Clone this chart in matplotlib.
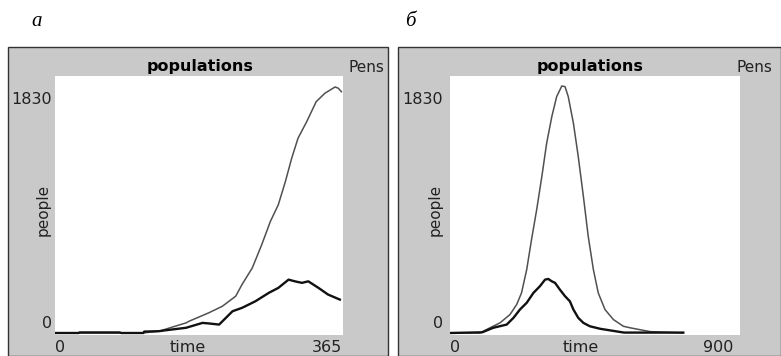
import matplotlib
matplotlib.use("Agg")
import matplotlib.pyplot as plt
from matplotlib.patches import Rectangle

# Panel a: one-year run (time in days)
time_a = [0, 111, 132, 166, 170, 195, 212, 229, 237, 250, 262, 273, 283, 292,
          300, 308, 319, 331, 342, 355, 359, 363]
total_a = [0, 0, 13, 72, 84, 144, 190, 262, 345, 463, 629, 795, 913, 1079,
           1245, 1387, 1505, 1647, 1707, 1752, 1743, 1718]
time_a2 = [0, 30, 31, 82, 84, 112, 113, 132, 141, 166, 187, 195, 208, 225, 237,
           254, 271, 283, 296, 304, 313, 321, 334, 346, 361]
infected_a = [0, 0, 4, 4, 0, 0, 10, 13, 20, 37, 72, 68, 60, 155, 179, 226, 286,
              321, 380, 368, 357, 368, 321, 274, 238]

# Panel б: longer run until the epidemic dies out
time_b = [0, 93, 124, 155, 186, 207, 222, 238, 253, 269, 285, 300, 316, 331,
          347, 357, 367, 383, 398, 414, 429, 445, 460, 481, 507, 538, 559, 621,
          724]
total_b = [0, 0, 37, 72, 131, 203, 286, 451, 665, 878, 1114, 1352, 1541, 1683,
           1759, 1754, 1683, 1494, 1257, 972, 688, 451, 286, 167, 96, 48, 37,
           10, 0]
time_b2 = [0, 100, 134, 176, 197, 217, 238, 259, 279, 295, 305, 316, 326, 341,
           357, 372, 383, 398, 414, 434, 466, 507, 540, 724]
infected_b = [0, 5, 37, 60, 108, 167, 215, 286, 333, 380, 385, 368, 357, 309,
              262, 226, 167, 108, 72, 48, 30, 15, 3, 3]

panel_letters = ["а", "б"]
x_max = [365, 900]
y_max = 1830
title = "populations"
pens_label = "Pens"
x_label = "time"
y_label = "people"

W, H = 781, 356
fig = plt.figure(figsize=(W / 100, H / 100), dpi=100)
fig.patch.set_facecolor("white")


def fx(x):
    return x / W


def fy(y):
    return 1 - y / H


FONT = "DejaVu Sans"
frame_gray = "#c9c9c9"
text_col = "#222222"
# white plot area spans pixel rows 76..335; the zero line sits slightly
# above the bottom edge, as in the NetLogo plot widget
plot_top, plot_bottom, zero_row = 76, 335, 333
y_min = -y_max * (plot_bottom - zero_row) / (zero_row - plot_top)

panels = [
    dict(frame=(8, 47, 388, 356), axes=(55, 343),
         letter=(37, 22), title_x=200, pens_x=348, ylab_x=52, people_x=43,
         t0_x=55, time_x=188, tmax_x=342,
         series=[(time_a, total_a, "#505050", 1.1),
                 (time_a2, infected_a, "#111111", 1.7)], xmax=x_max[0]),
    dict(frame=(398, 47, 781, 356), axes=(450, 740),
         letter=(410, 22), title_x=590, pens_x=737, ylab_x=443, people_x=435,
         t0_x=450, time_x=581, tmax_x=733,
         series=[(time_b, total_b, "#505050", 1.1),
                 (time_b2, infected_b, "#111111", 1.7)], xmax=x_max[1]),
]

for i, p in enumerate(panels):
    x0, y0, x1, y1 = p["frame"]
    fig.patches.append(Rectangle((fx(x0), fy(y1)), fx(x1 - x0), (y1 - y0) / H,
                                 transform=fig.transFigure, facecolor=frame_gray,
                                 edgecolor="#333333", linewidth=1.0, zorder=-5))
    fig.text(fx(p["letter"][0]), fy(p["letter"][1]), panel_letters[i],
             family="Liberation Serif", style="italic", fontsize=15,
             ha="center", va="center")

    ax0, ax1 = p["axes"]
    ax = fig.add_axes([fx(ax0), fy(plot_bottom), fx(ax1 - ax0),
                       (plot_bottom - plot_top) / H])
    ax.set_zorder(1)
    ax.set_facecolor("white")
    for xs, ys, col, lw in p["series"]:
        ax.plot(xs, ys, color=col, linewidth=lw, solid_joinstyle="round")
    ax.set_xlim(0, p["xmax"])
    ax.set_ylim(y_min, y_max)
    ax.set_xticks([])
    ax.set_yticks([])
    for s in ax.spines.values():
        s.set_visible(False)

    ty = 67
    fig.text(fx(p["title_x"]), fy(ty), title, family=FONT, weight="bold",
             fontsize=11.5, ha="center", va="center")
    fig.text(fx(p["pens_x"]), fy(ty), pens_label, family=FONT, fontsize=11,
             ha="left", va="center", color=text_col)
    fig.text(fx(p["ylab_x"]), fy(99), str(y_max), family=FONT, fontsize=11.5,
             ha="right", va="center", color=text_col)
    fig.text(fx(p["ylab_x"]), fy(324), "0", family=FONT, fontsize=11.5,
             ha="right", va="center", color=text_col)
    fig.text(fx(p["people_x"]), fy(210), y_label, family=FONT, fontsize=11,
             rotation=90, ha="center", va="center", color=text_col)
    fig.text(fx(p["t0_x"]), fy(348), "0", family=FONT, fontsize=11.5,
             ha="left", va="center", color=text_col)
    fig.text(fx(p["time_x"]), fy(348), x_label, family=FONT, fontsize=11.5,
             ha="center", va="center", color=text_col)
    fig.text(fx(p["tmax_x"]), fy(348), str(p["xmax"]), family=FONT,
             fontsize=11.5, ha="right", va="center", color=text_col)

fig.savefig("out.png", dpi=100)
